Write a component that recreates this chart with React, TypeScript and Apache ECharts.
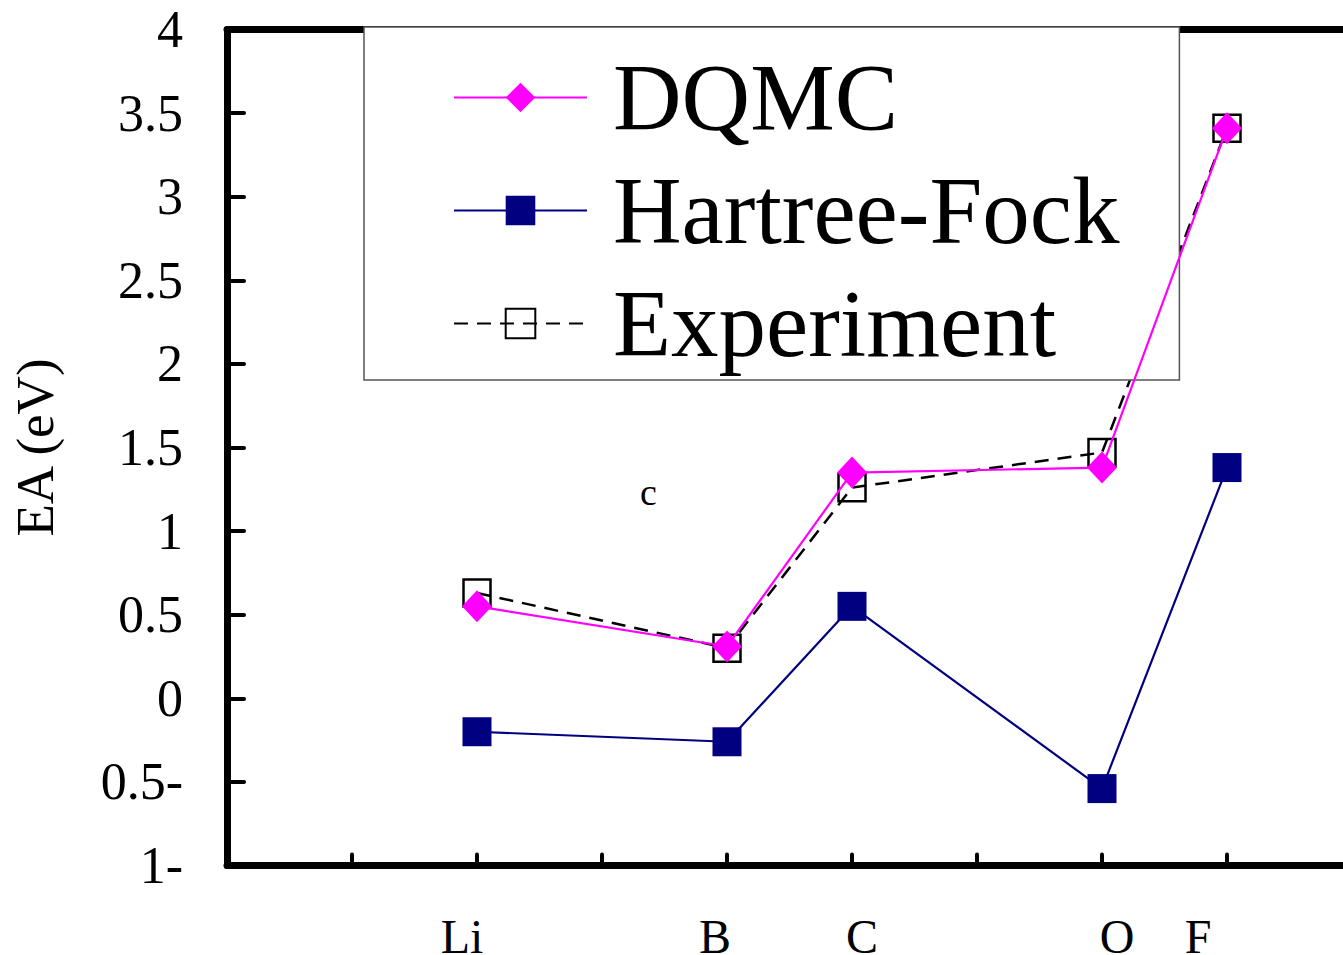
import React, { useEffect, useRef } from "react";
import * as echarts from "echarts";

const elements = ["Li", "B", "C", "O", "F"];
const atomicNumbers = [3, 5, 6, 8, 9];
const dqmc = [0.55, 0.31, 1.35, 1.38, 3.41];
const hartreeFock = [-0.2, -0.26, 0.55, -0.54, 1.38];
const experiment = [0.63, 0.3, 1.26, 1.47, 3.41];
const yTicks = [-1, -0.5, 0, 0.5, 1, 1.5, 2, 2.5, 3, 3.5, 4];
// horizontal nudges of the element labels (rich padding [left, right])
const labelPad: Record<string, [number, number]> = {
  Li: [0, 30],
  B: [0, 24],
  C: [20, 0],
  O: [30, 0],
  F: [0, 58],
};

const FONT = "'Liberation Serif', 'Times New Roman', serif";

export default function App() {
  const ref = useRef<HTMLDivElement>(null);
  useEffect(() => {
    if (!ref.current) return;
    const chart = echarts.init(ref.current, undefined, { renderer: "svg" });
    const pair = (vals: number[]) => atomicNumbers.map((x, i) => [x, vals[i]]);
    const rich: Record<string, any> = {};
    elements.forEach((e) => {
      rich[e] = {
        fontSize: 48,
        lineHeight: 34,
        fontFamily: FONT,
        color: "#000",
        padding: [0, labelPad[e][1], 0, labelPad[e][0]],
      };
    });
    chart.setOption({
      animation: false,
      backgroundColor: "#fff",
      grid: {
        left: 227,
        top: 29.5,
        width: 1125,
        height: 836,
        containLabel: false,
        outerBoundsMode: "none",
      },
      xAxis: [
        {
          type: "value",
          min: 1,
          max: 10,
          interval: 1,
          splitLine: { show: false },
          axisLine: { show: true, onZero: false, lineStyle: { color: "#000", width: 7 } },
          axisTick: { show: true, inside: true, length: 11, lineStyle: { color: "#000", width: 4, cap: "round" } },
          axisLabel: {
            show: true,
            margin: 54,
            lineHeight: 34,
            formatter: (v: number) => {
              const i = atomicNumbers.indexOf(Math.round(v));
              return i >= 0 ? `{${elements[i]}|${elements[i]}}` : "";
            },
            rich,
          },
        },
        {
          type: "value",
          position: "top",
          min: 1,
          max: 10,
          interval: 1,
          splitLine: { show: false },
          axisLine: { show: true, onZero: false, lineStyle: { color: "#000", width: 7 } },
          axisTick: { show: false },
          axisLabel: { show: false },
        },
      ],
      yAxis: {
        type: "value",
        min: -1,
        max: 4,
        interval: 0.5,
        name: "EA (eV)",
        nameLocation: "middle",
        nameGap: 166,
        nameTextStyle: { fontSize: 53, fontFamily: FONT, color: "#000" },
        splitLine: { show: false },
        axisLine: { show: true, onZero: false, lineStyle: { color: "#000", width: 7 } },
        axisTick: { show: true, inside: true, length: 17, lineStyle: { color: "#000", width: 4, cap: "round" } },
        axisLabel: {
          margin: 44,
          fontSize: 52,
          fontFamily: FONT,
          color: "#000",
          formatter: (v: number) => {
            const t = yTicks.find((y) => Math.abs(y - v) < 1e-6);
            if (t === undefined) return "";
            return t < 0 ? `${Math.abs(t)}-` : `${t}`;
          },
        },
      },
      legend: {
        orient: "vertical",
        left: 364,
        top: 27,
        padding: [23, 60, 9, 89],
        backgroundColor: "#fff",
        borderColor: "#555",
        borderWidth: 1.5,
        itemWidth: 133,
        itemHeight: 37,
        itemGap: 18,
        formatter: (name: string) => `{t|${name}}`,
        textStyle: {
          rich: {
            t: { fontSize: 95, fontFamily: FONT, color: "#000", padding: [0, 0, 0, 21] },
          },
        },
        data: ["DQMC", "Hartree-Fock", "Experiment"],
      },
      graphic: [
        {
          type: "text",
          left: 640,
          top: 473,
          style: { text: "c", fontSize: 38, fontFamily: FONT, fill: "#000" },
        },
      ],
      series: [
        {
          name: "DQMC",
          type: "line",
          data: pair(dqmc),
          z: 4,
          symbol: "diamond",
          symbolSize: [30, 32],
          lineStyle: { color: "#ff00ff", width: 2.2 },
          itemStyle: { color: "#ff00ff" },
        },
        {
          name: "Hartree-Fock",
          type: "line",
          data: pair(hartreeFock),
          z: 2,
          symbol: "rect",
          symbolSize: 29,
          lineStyle: { color: "#000080", width: 2.2 },
          itemStyle: { color: "#000080" },
        },
        {
          name: "Experiment",
          type: "line",
          data: pair(experiment),
          z: 3,
          symbol: "rect",
          symbolSize: 27,
          lineStyle: { color: "#000", width: 2.5, type: [14, 9] },
          itemStyle: { color: "rgba(255,255,255,0)", borderColor: "#000", borderWidth: 2.5 },
        },
      ],
    });
    return () => chart.dispose();
  }, []);
  return (
    <div
      ref={ref}
      style={{ position: "fixed", left: 0, top: 0, width: 1343, height: 955 }}
    />
  );
}
